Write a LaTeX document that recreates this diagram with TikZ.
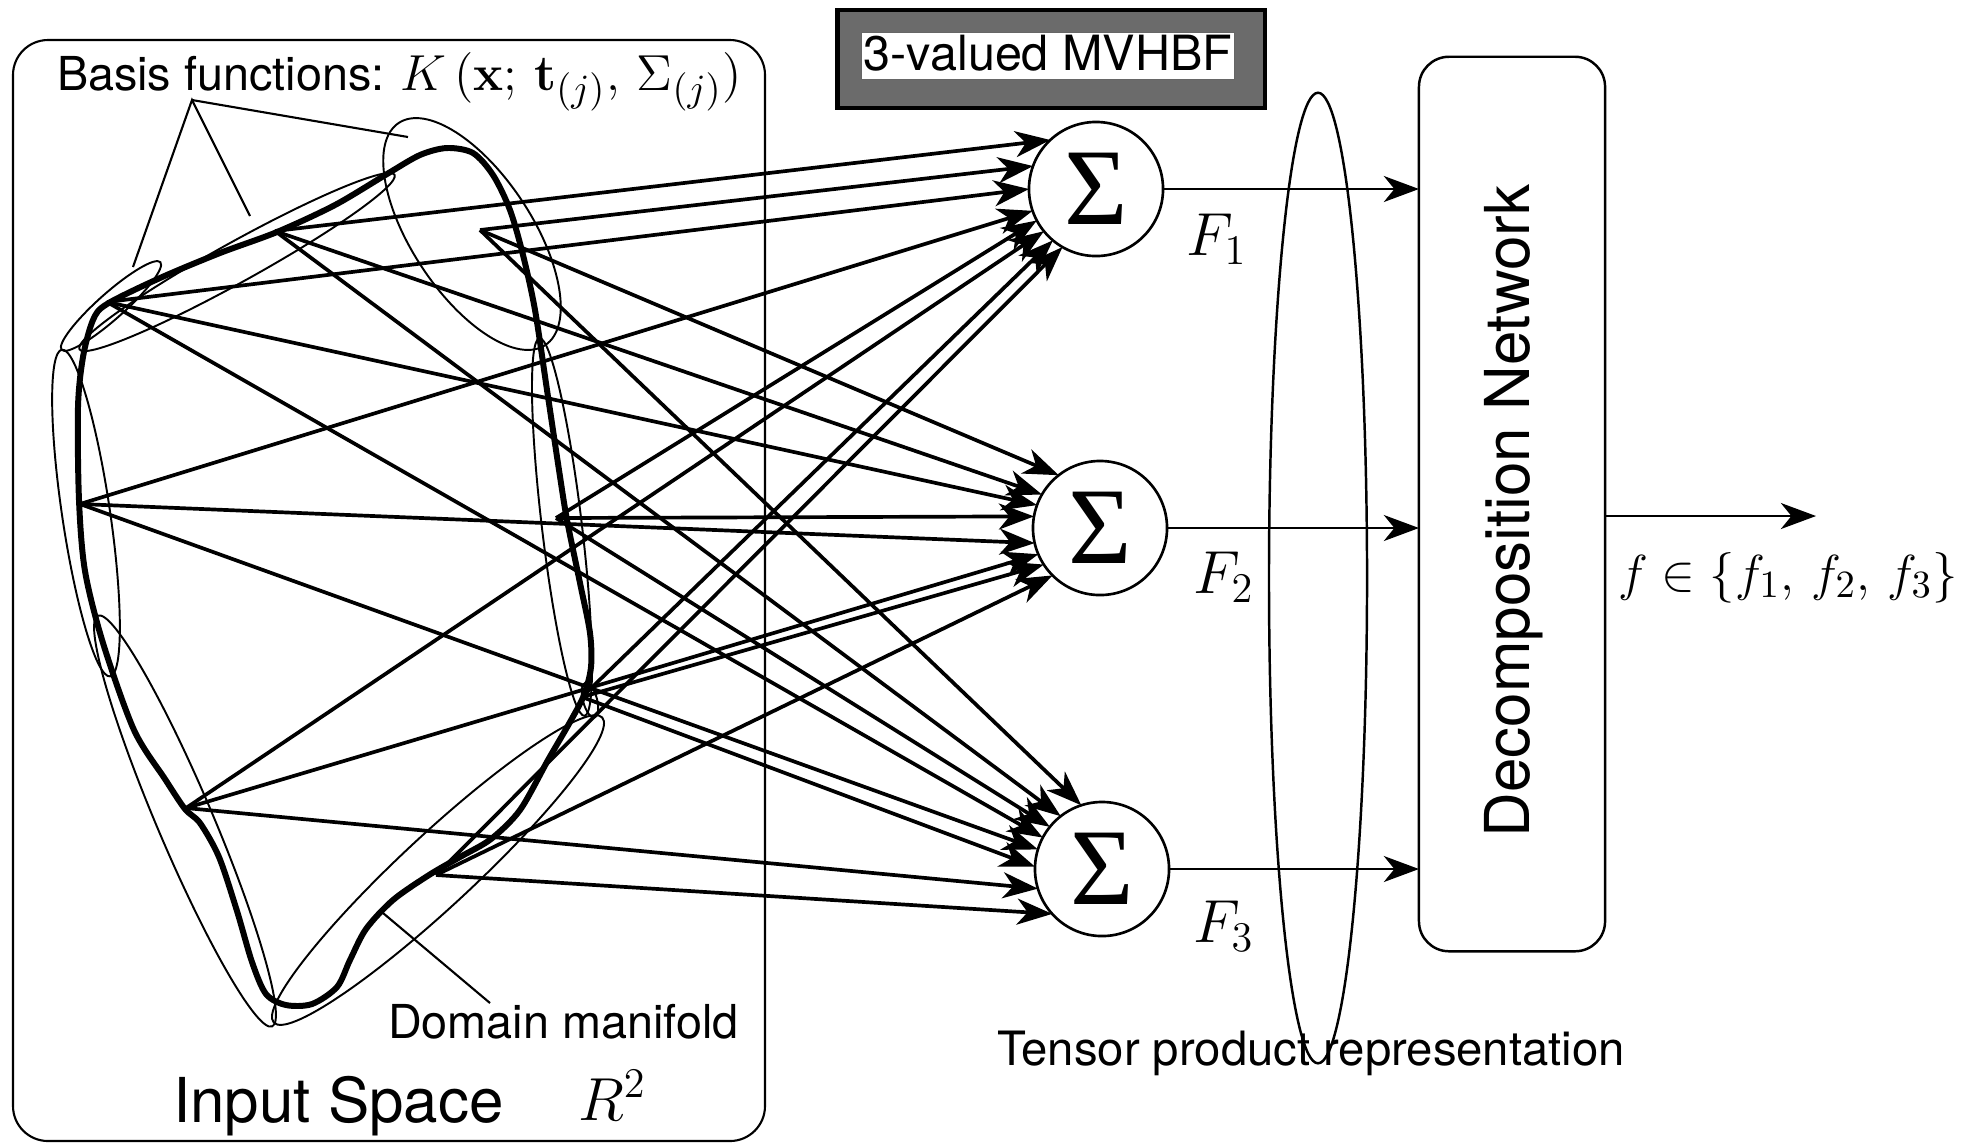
\documentclass[tikz,border=0pt]{standalone}
\usepackage[no-math]{fontspec}
\setmainfont{TeX Gyre Heros}
\newfontfamily\greekserif{Liberation Serif}
\usetikzlibrary{arrows.meta,shapes.geometric}

\begin{document}
\begin{tikzpicture}[x=0.01cm, y=-0.01cm,
  every node/.style={inner sep=0pt, outer sep=0pt},
  arr/.style={-{Stealth[length=10pt,width=7.4pt,inset=3pt]}, line width=1.05pt},
  thinarr/.style={-{Stealth[length=10pt,width=7.4pt,inset=3pt]}, line width=0.6pt},
  basis/.style={line width=0.55pt},
  manifold/.style={line width=1.7pt, line join=round},
  frame/.style={line width=0.6pt},
  sigma/.style={circle, draw, line width=0.75pt, minimum size=1.34cm,
    font=\fontsize{31}{32}\selectfont\greekserif},
  lab/.style={font=\fontsize{13.3}{15}\selectfont},
  biglab/.style={font=\fontsize{17.5}{20}\selectfont},
]
\useasboundingbox (0,0) rectangle (1980,1144);

% ---------------- input space frame ----------------
\draw[frame, rounded corners=0.35cm] (13,40) rectangle (765,1141);

% ---------------- basis function ellipses ----------------
\draw[basis, rotate around={-56.6:(472,234)}] (472,234) ellipse [x radius=1.33cm, y radius=0.60cm];
\draw[basis, rotate around={29:(237,262)}] (237,262) ellipse [x radius=1.80cm, y radius=0.20cm];
\draw[basis, rotate around={41.6:(111,306)}] (111,306) ellipse [x radius=0.66cm, y radius=0.13cm];
\draw[basis, rotate around={-81.6:(86,513)}] (86,513) ellipse [x radius=1.65cm, y radius=0.24cm];
\draw[basis, rotate around={-67:(185,821)}] (185,821) ellipse [x radius=2.23cm, y radius=0.28cm];
\draw[basis, rotate around={-83.2:(562,527)}] (562,527) ellipse [x radius=1.90cm, y radius=0.20cm];
\draw[basis, rotate around={42.9:(438,870)}] (438,870) ellipse [x radius=2.24cm, y radius=0.36cm];
\draw[basis, rotate around={-75:(590,700)}] (590,700) ellipse [x radius=0.18cm, y radius=0.07cm];

% ---------------- domain manifold ----------------
\draw[manifold] plot[smooth cycle, tension=0.5] coordinates {
  (107,304) (160,278) (220,253) (277,232) (335,205) (387,174) (420,155)
  (447,148) (473,153) (493,175) (510,210) (523,255) (535,310) (547,390)
  (559,470) (567,520) (580,583) (590,633) (591,667) (584,695) (570,722)
  (548,760) (520,810) (491,839) (460,857) (429,875) (393,900) (366,929)
  (350,960) (337,987) (312,1004) (286,1005) (266,994) (252,962) (237,911)
  (219,857) (200,823) (185,809) (165,779) (134,730) (103,643) (85,571)
  (79,500) (78,407) (83,357) (93,320)};

% ---------------- sample points on the manifold ----------------
\coordinate (P1) at (107,302);
\coordinate (P2) at (275,231);
\coordinate (P3) at (480,230);
\coordinate (P4) at (80,504);
\coordinate (P5) at (556,518);
\coordinate (P6) at (582,697);
\coordinate (P7) at (186,808);
\coordinate (P8) at (436,875);

% ---------------- summation units ----------------
\node[sigma] (C1) at (1096,189) {Σ};
\node[sigma] (C2) at (1100,528) {Σ};
\node[sigma] (C3) at (1102,869) {Σ};

% ---------------- weighted connections ----------------
\draw[arr] (P2) -- (C1.133);
\draw[arr] (P3) -- (C1.160);
\draw[arr] (P1) -- (C1.180);
\draw[arr] (P4) -- (C1.199);
\draw[arr] (P5) -- (C1.208);
\draw[arr] (P7) -- (C1.219);
\draw[arr] (P6) -- (C1.230);
\draw[arr] (P8) -- (C1.240);

\draw[arr] (P3) -- (C2.128);
\draw[arr] (P2) -- (C2.150);
\draw[arr] (P1) -- (C2.160);
\draw[arr] (P5) -- (C2.170);
\draw[arr] (P4) -- (C2.193);
\draw[arr] (P7) -- (C2.203);
\draw[arr] (P6) -- (C2.213);
\draw[arr] (P8) -- (C2.225);

\draw[arr] (P3) -- (C3.108);
\draw[arr] (P2) -- (C3.128);
\draw[arr] (P5) -- (C3.141);
\draw[arr] (P1) -- (C3.152);
\draw[arr] (P4) -- (C3.163);
\draw[arr] (P6) -- (C3.178);
\draw[arr] (P7) -- (C3.197);
\draw[arr] (P8) -- (C3.222);

% ---------------- callouts ----------------
\coordinate (bfhub) at (192,100);
\coordinate (bfE1) at (408,137);
\coordinate (bfE2) at (250,216);
\coordinate (bfE3) at (133,267);
\draw[frame] (bfE3) -- (bfhub) -- (bfE2);
\draw[frame] (bfhub) -- (bfE1);
\coordinate (dmfoot) at (490,1003);
\coordinate (dmtip) at (383,913);
\draw[frame] (dmfoot) -- (dmtip);

% ---------------- labels in the input space ----------------
\node[lab, anchor=base west] (bflabel) at (57,90) {Basis functions:};
\node[font=\fontsize{15.5}{18}\selectfont, anchor=base west] (bfmath) at (400,90)
  {$K\,\bigl(\mathbf{x};\,\mathbf{t}_{(j)},\,\Sigma_{(j)}\bigr)$};
\node[lab, anchor=base west] (dmlabel) at (388,1038) {Domain manifold};
\node[font=\fontsize{17.6}{20}\selectfont, anchor=base west] (islabel) at (173,1122) {Input Space};
\node[font=\fontsize{16.6}{20}\selectfont, anchor=base west] (r2label) at (578,1120) {$R^2$};

% ---------------- title box ----------------
\node[draw, line width=1.2pt, fill=black!58, minimum width=4.27cm, minimum height=0.98cm]
  (mvbox) at (1051,59) {};
\node[fill=white, draw=black!60, line width=0.3pt, minimum width=3.73cm, minimum height=0.47cm]
  (mvinner) at (1048,56) {};
\node[font=\fontsize{13.8}{15}\selectfont, anchor=base] (mvtext) at (1048,70) {3-valued MVHBF};

% ---------------- outputs of the summation units ----------------
\node[biglab, anchor=base west] (F1) at (1186,255) {$F_1$};
\node[biglab, anchor=base west] (F2) at (1193,593) {$F_2$};
\node[biglab, anchor=base west] (F3) at (1193,942) {$F_3$};

\node[draw, ellipse, line width=0.7pt, minimum width=0.98cm, minimum height=9.7cm]
  (tpr) at (1318,578) {};
\node[font=\fontsize{13.45}{15}\selectfont, anchor=base west] (tprlabel) at (997,1065)
  {Tensor product representation};

\node[draw, line width=0.7pt, rounded corners=0.3cm, minimum width=1.86cm, minimum height=8.94cm]
  (dec) at (1512,504) {};
\node[font=\fontsize{17.6}{20}\selectfont, rotate=90, anchor=base] (dectext) at (1529,511)
  {Decomposition Network};

\draw[thinarr] (C1.east) -- (C1.east -| dec.west);
\draw[thinarr] (C2.east) -- (C2.east -| dec.west);
\draw[thinarr] (C3.east) -- (C3.east -| dec.west);

\coordinate (fout) at (1816,516);
\draw[thinarr] (dec.east |- fout) -- (fout);
\node[font=\fontsize{15.6}{18}\selectfont, anchor=base west] (outlabel) at (1618,590)
  {$f\in\{f_1,\,f_2,\,f_3\}$};

\end{tikzpicture}
\end{document}
